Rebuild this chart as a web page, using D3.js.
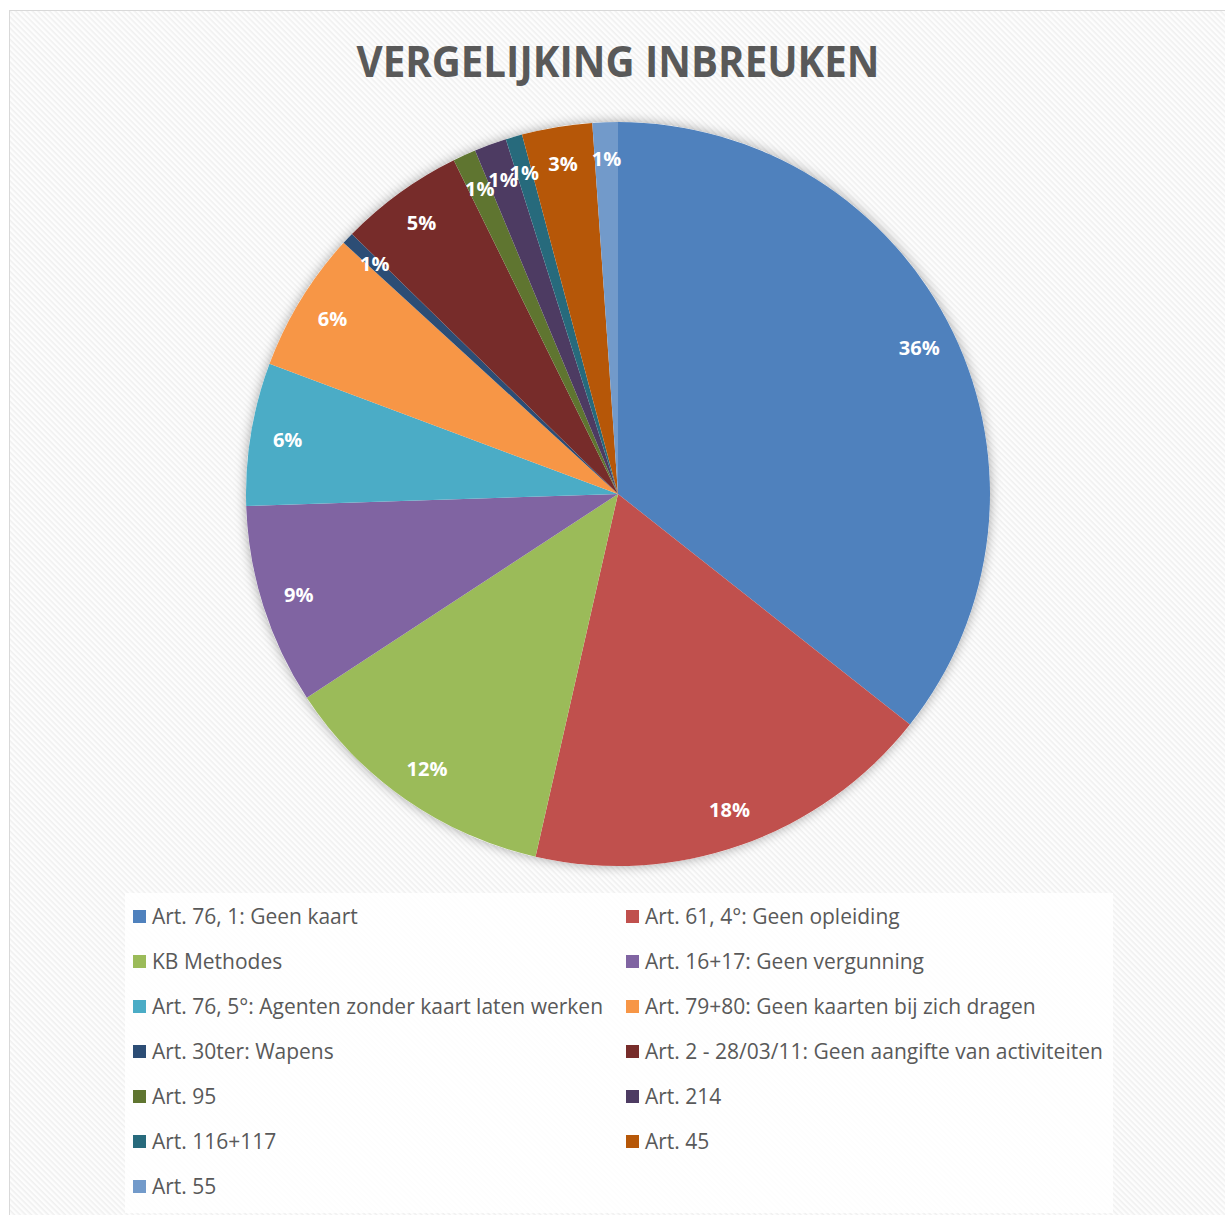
<!DOCTYPE html>
<html>
<head>
<meta charset="utf-8">
<script src="https://cdn.jsdelivr.net/npm/d3@7"></script>
<style>
    html, body { margin: 0; padding: 0; background: #fff; }
    svg { display: block; }
    .title { font-family: "Open Sans", Lato, sans-serif; font-weight: 700; fill: #595959; }
    .slice-label { font-family: "Open Sans", Lato, sans-serif; font-weight: 700; fill: #fff; }
    .legend text { font-family: "Open Sans", Lato, sans-serif; fill: #595959; }
</style>
</head>
<body>
<div id="chart"></div>
<script>
// categories in drawing order (clockwise from 12 o'clock)
const categories = [
    'Art. 76, 1: Geen kaart',
    'Art. 61, 4°: Geen opleiding',
    'KB Methodes',
    'Art. 16+17: Geen vergunning',
    'Art. 76, 5°: Agenten zonder kaart laten werken',
    'Art. 79+80: Geen kaarten bij zich dragen',
    'Art. 30ter: Wapens',
    'Art. 2 - 28/03/11: Geen aangifte van activiteiten',
    'Art. 95',
    'Art. 214',
    'Art. 116+117',
    'Art. 45',
    'Art. 55'
];

// shares (percent)
const shares = [35.6, 17.9, 12.2, 8.7, 6.2, 6.1, 0.52, 5.4, 1.0, 1.4, 0.72, 3.05, 1.1];

const colors = [
    '#4F81BD', '#C0504D', '#9BBB59', '#8064A2', '#4BACC6', '#F79646',
    '#2C4D75', '#772C2A', '#5F7530', '#4D3B62', '#276A7C', '#B65708', '#729ACA'
];

const title = 'VERGELIJKING INBREUKEN';

const width = 1225;
const height = 1215;
const cx = 618, cy = 494, radius = 372;

const svg = d3.select('#chart')
    .append('svg')
    .attr('width', width)
    .attr('height', height);

const defs = svg.append('defs');

// diagonal hatch used by the chart area
const hatch = defs.append('pattern')
    .attr('id', 'hatch')
    .attr('patternUnits', 'userSpaceOnUse')
    .attr('width', 4)
    .attr('height', 4)
    .attr('patternTransform', 'rotate(45)');
hatch.append('rect').attr('width', 4).attr('height', 4).attr('fill', '#fdfdfd');
hatch.append('rect').attr('width', 4).attr('height', 1.6).attr('fill', '#f0f0f0');

const shadow = defs.append('filter')
    .attr('id', 'pie-shadow')
    .attr('x', '-20%').attr('y', '-20%')
    .attr('width', '140%').attr('height', '140%');
shadow.append('feDropShadow')
    .attr('dx', 0)
    .attr('dy', 0)
    .attr('stdDeviation', 6)
    .attr('flood-color', '#000')
    .attr('flood-opacity', 0.35);

// chart area
svg.append('rect')
    .attr('x', 9.5)
    .attr('y', 10.5)
    .attr('width', width + 20)
    .attr('height', height + 20)
    .attr('fill', 'url(#hatch)')
    .attr('stroke', '#d9d9d9')
    .attr('stroke-width', 1);

svg.append('text')
    .attr('class', 'title')
    .attr('x', 618)
    .attr('y', 77)
    .attr('text-anchor', 'middle')
    .attr('font-size', 43)
    .attr('textLength', 523)
    .attr('lengthAdjust', 'spacingAndGlyphs')
    .text(title);

// pie
const pie = d3.pie().sort(null).value(d => d.value);
const arcs = pie(categories.map((name, i) => ({ name, value: shares[i], color: colors[i] })));
const total = d3.sum(shares);

const arc = d3.arc().innerRadius(0).outerRadius(radius);
const labelArc = d3.arc().innerRadius(radius * 0.9).outerRadius(radius * 0.9);

const g = svg.append('g').attr('transform', `translate(${cx},${cy})`);

g.append('circle')
    .attr('r', radius)
    .attr('fill', '#fff')
    .attr('filter', 'url(#pie-shadow)');

g.selectAll('.slice')
    .data(arcs)
    .enter()
    .append('path')
    .attr('class', 'slice')
    .attr('d', arc)
    .attr('fill', d => d.data.color);

g.selectAll('.slice-label')
    .data(arcs)
    .enter()
    .append('text')
    .attr('class', 'slice-label')
    .attr('transform', d => `translate(${labelArc.centroid(d)})`)
    .attr('text-anchor', 'middle')
    .attr('dy', '0.35em')
    .attr('font-size', 20)
    .text(d => Math.max(1, Math.round(d.data.value / total * 100)) + '%');

// legend
svg.append('rect')
    .attr('x', 125)
    .attr('y', 893)
    .attr('width', 988)
    .attr('height', 320)
    .attr('fill', '#fff')
    .attr('opacity', 0.85);

const legend = svg.append('g').attr('class', 'legend');
const colX = [133, 626];
const rowY = d3.scaleLinear().domain([0, 1]).range([917, 962]);

const item = legend.selectAll('.item')
    .data(arcs)
    .enter()
    .append('g')
    .attr('class', 'item')
    .attr('transform', (d, i) => `translate(${colX[i % 2]},${rowY(Math.floor(i / 2))})`);

item.append('rect')
    .attr('x', 0)
    .attr('y', -7)
    .attr('width', 13)
    .attr('height', 13)
    .attr('fill', d => d.data.color);

item.append('text')
    .attr('x', 19)
    .attr('y', 0)
    .attr('dy', '0.35em')
    .attr('font-size', 21)
    .text(d => d.data.name);
</script>
</body>
</html>
